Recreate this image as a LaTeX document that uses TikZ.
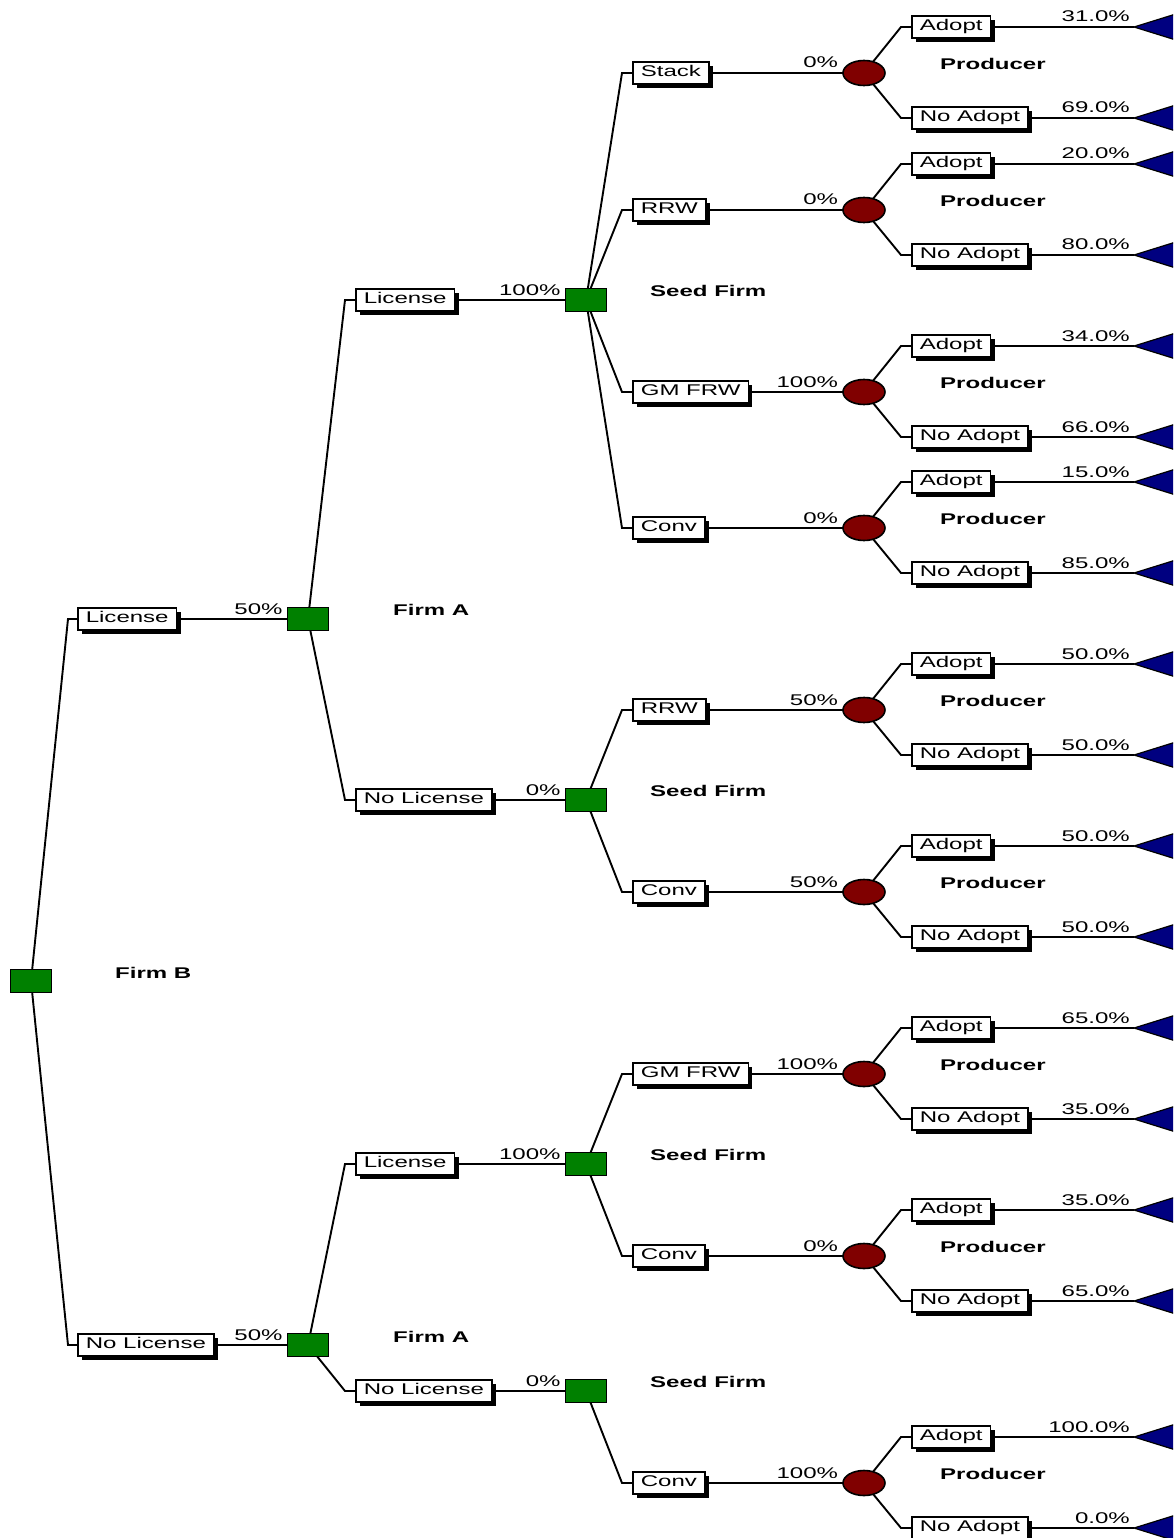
\documentclass[tikz,border=0pt]{standalone}
\usepackage{fontspec}
\newfontfamily\dtfont[FakeStretch=1.55]{Liberation Sans}
\usetikzlibrary{shapes.geometric,shadows,backgrounds}
\definecolor{dgreen}{RGB}{0,128,0}
\definecolor{dred}{RGB}{128,0,0}
\definecolor{dblue}{RGB}{0,0,128}
\begin{document}
\begin{tikzpicture}[x=1pt,y=-1pt,
 conn/.style={line width=1.9pt},
 dec/.style={rectangle,draw,line width=1.6pt,fill=dgreen,minimum width=41pt,minimum height=23pt,inner sep=0pt},
 chance/.style={ellipse,draw,line width=1.6pt,fill=dred,minimum width=42pt,minimum height=25pt,inner sep=0pt},
 lbl/.style={rectangle,draw,line width=1.6pt,fill=white,inner xsep=8pt,inner ysep=3.75pt,text height=11pt,text depth=3.5pt,minimum height=22pt,anchor=west,font=\dtfont\fontsize{15.5}{18}\selectfont,drop shadow={shadow xshift=4pt,shadow yshift=-4pt,fill=black,opacity=1}},
 prob/.style={anchor=base east,inner sep=0pt,font=\dtfont\fontsize{15.5}{18}\selectfont},
 role/.style={anchor=west,inner sep=0pt,font=\dtfont\bfseries\fontsize{15.5}{18}\selectfont},
 term/.style={fill=dblue,draw=black,line width=1.2pt}
]
\useasboundingbox (0,0) rectangle (1173,1538);
\clip (0,0) rectangle (1173,1538);

% level 0 and 1
\node[dec] (R) at (31,981) {};
\node[role] (rR) at (115,973) {Firm B};
\node[lbl] (bL) at (77,619) {License};
\node[lbl] (bNL) at (77,1345) {No License};
\node[dec] (A1) at (308,619) {};
\node[dec] (A2) at (308,1345) {};
\node[prob] (pA1) at ([xshift=-4pt,yshift=5pt]A1.west) {50\%};
\node[prob] (pA2) at ([xshift=-4pt,yshift=5pt]A2.west) {50\%};
\node[role] (rA1) at (393,610) {Firm A};
\node[role] (rA2) at (393,1337) {Firm A};
\begin{scope}[on background layer]
\draw[conn] (R.center) -- ([xshift=-9pt]bL.west) -- (bL.west);
\draw[conn] (R.center) -- ([xshift=-9pt]bNL.west) -- (bNL.west);
\draw[conn] (bL.east) -- (A1.center);
\draw[conn] (bNL.east) -- (A2.center);
\end{scope}

% level 2
\foreach \pr/\nm/\yy/\lab/\pp in {A1/S1/300/License/100\%, A1/S2/800/No License/0\%, A2/S3/1164/License/100\%, A2/S4/1391/No License/0\%}{
  \node[lbl] (b\nm) at (355,\yy) {\lab};
  \node[dec] (\nm) at (586,\yy) {};
  \node[prob] (p\nm) at ([xshift=-4pt,yshift=5pt]\nm.west) {\pp};
  \node[role] (r\nm) at (650,{\yy-9}) {Seed Firm};
  \begin{scope}[on background layer]
  \draw[conn] (\pr.center) -- ([xshift=-10pt]b\nm.west) -- (b\nm.west);
  \draw[conn] (b\nm.east) -- (\nm.center);
  \end{scope}
}

% level 3 and 4
\foreach \pr/\nm/\yy/\lab/\pp/\pa/\pn in {
  S1/c1/73/Stack/0\%/31.0\%/69.0\%,
  S1/c2/210/RRW/0\%/20.0\%/80.0\%,
  S1/c3/392/GM FRW/100\%/34.0\%/66.0\%,
  S1/c4/528/Conv/0\%/15.0\%/85.0\%,
  S2/c5/710/RRW/50\%/50.0\%/50.0\%,
  S2/c6/892/Conv/50\%/50.0\%/50.0\%,
  S3/c7/1074/GM FRW/100\%/65.0\%/35.0\%,
  S3/c8/1256/Conv/0\%/35.0\%/65.0\%,
  S4/c9/1483/Conv/100\%/100.0\%/0.0\%}{
  \node[lbl] (b\nm) at (632,\yy) {\lab};
  \node[chance] (\nm) at (864,\yy) {};
  \node[prob] (p\nm) at ([xshift=-4pt,yshift=5pt]\nm.west) {\pp};
  \node[role] (r\nm) at (940,{\yy-9}) {Producer};
  \node[lbl] (a\nm) at (911,{\yy-46}) {Adopt};
  \node[lbl] (n\nm) at (911,{\yy+45}) {No Adopt};
  \coordinate (ta\nm) at (1134,{\yy-46});
  \coordinate (tn\nm) at (1134,{\yy+45});
  \draw[term] (ta\nm) -- ++(45,-14) -- ++(0,28) -- cycle;
  \draw[term] (tn\nm) -- ++(45,-14) -- ++(0,28) -- cycle;
  \node[prob] (pa\nm) at ([xshift=-4pt,yshift=5pt]ta\nm) {\pa};
  \node[prob] (pn\nm) at ([xshift=-4pt,yshift=5pt]tn\nm) {\pn};
  \begin{scope}[on background layer]
  \draw[conn] (\pr.center) -- ([xshift=-10pt]b\nm.west) -- (b\nm.west);
  \draw[conn] (b\nm.east) -- (\nm.center);
  \draw[conn] (\nm.center) -- ([xshift=-10pt]a\nm.west) -- (a\nm.west);
  \draw[conn] (\nm.center) -- ([xshift=-10pt]n\nm.west) -- (n\nm.west);
  \draw[conn] (a\nm.east) -- (ta\nm);
  \draw[conn] (n\nm.east) -- (tn\nm);
  \end{scope}
}
\end{tikzpicture}
\end{document}
